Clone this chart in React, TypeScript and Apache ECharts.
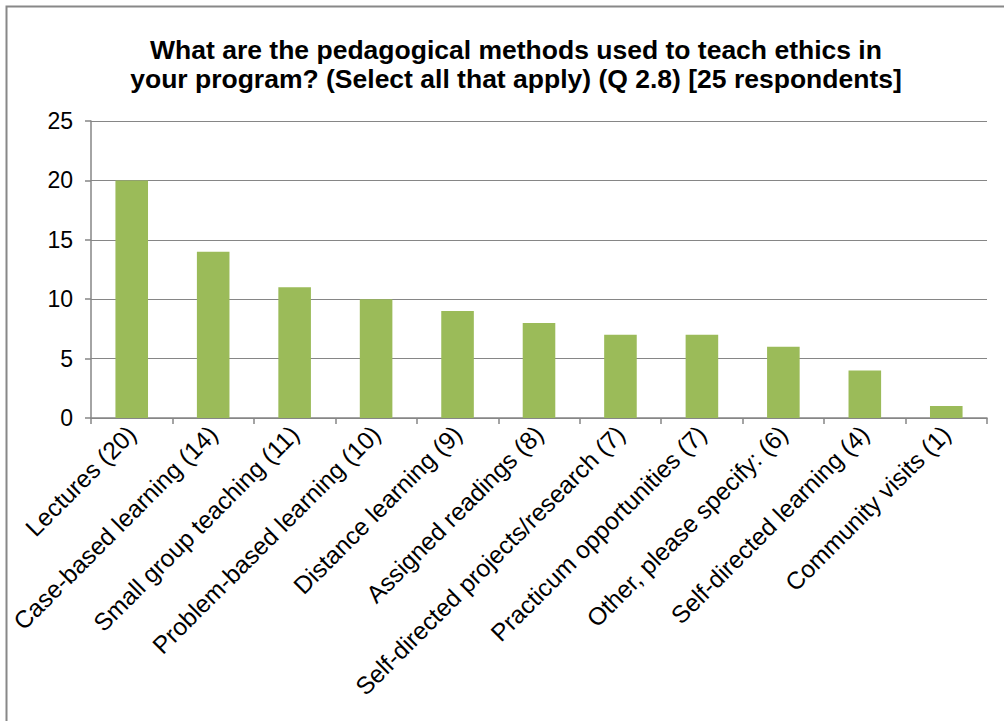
import React, { useEffect, useRef } from "react";
import * as echarts from "echarts";

const categories = [
  "Lectures (20)",
  "Case-based learning (14)",
  "Small group teaching (11)",
  "Problem-based learning (10)",
  "Distance learning (9)",
  "Assigned readings (8)",
  "Self-directed projects/research (7)",
  "Practicum opportunities (7)",
  "Other, please specify: (6)",
  "Self-directed learning (4)",
  "Community visits (1)",
];
const values = [20, 14, 11, 10, 9, 8, 7, 7, 6, 4, 1];
const titleLines = [
  "What are the pedagogical methods used to teach ethics in",
  "your program? (Select all that apply) (Q 2.8) [25 respondents]",
];

export default function App() {
  const ref = useRef<HTMLDivElement>(null);
  useEffect(() => {
    const chart = echarts.init(ref.current!, null, { renderer: "svg" });
    chart.setOption({
      animation: false,
      backgroundColor: "#ffffff",
      title: {
        text: titleLines.join("\n"),
        left: 511,
        textAlign: "center",
        top: 30,
        textStyle: {
          fontFamily: "Liberation Sans, Arial, sans-serif",
          fontWeight: "bold",
          fontSize: 26.5,
          lineHeight: 29,
          color: "#000",
        },
      },
      graphic: [
        {
          type: "rect",
          shape: { x: 6.5, y: 6.5, width: 1100, height: 800 },
          style: { fill: "none", stroke: "#888", lineWidth: 2 },
          silent: true,
        },
      ],
      grid: { left: 91, right: 17, top: 121, bottom: 303, containLabel: false },
      xAxis: {
        type: "category",
        data: categories,
        axisLine: { lineStyle: { color: "#868686", width: 1.5 } },
        axisTick: { show: true, length: 6, alignWithLabel: false, lineStyle: { color: "#868686", width: 1.5 } },
        axisLabel: {
          rotate: 45,
          interval: 0,
          margin: 12,
          fontFamily: "Liberation Sans, Arial, sans-serif",
          fontSize: 24.5,
          color: "#000",
        },
      },
      yAxis: {
        type: "value",
        min: 0,
        max: 25,
        interval: 5,
        axisLine: { show: true, lineStyle: { color: "#868686", width: 1.5 } },
        axisTick: { show: true, length: 6, lineStyle: { color: "#868686", width: 1.5 } },
        splitLine: { lineStyle: { color: "#868686", width: 1.2 } },
        axisLabel: {
          margin: 18,
          fontFamily: "Liberation Sans, Arial, sans-serif",
          fontSize: 23,
          color: "#000",
        },
      },
      series: [
        {
          type: "bar",
          data: values,
          barWidth: "40%",
          itemStyle: { color: "#9BBB59" },
        },
      ],
    });
    return () => chart.dispose();
  }, []);
  return (
    <div
      ref={ref}
      style={{ position: "fixed", left: 0, top: 0, width: 1004, height: 721 }}
    />
  );
}
